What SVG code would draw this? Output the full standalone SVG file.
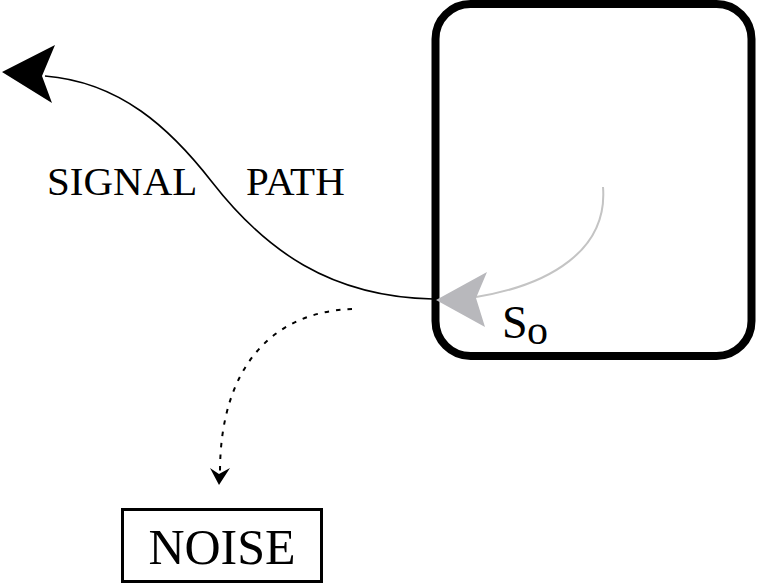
<svg xmlns="http://www.w3.org/2000/svg" width="757" height="585" viewBox="0 0 757 585">
<style>
.t{font-family:"Liberation Serif","Times New Roman",serif;fill:#000}
</style>
<rect width="757" height="585" fill="#fff"/>
<g id="block">
<rect x="435.5" y="4" width="316" height="352" rx="35" ry="35" fill="none" stroke="#000" stroke-width="8"/>
<text class="t" x="502" y="338" font-size="46">S</text>
<text class="t" x="527" y="344" font-size="42">o</text>
</g>
<g id="noise">
<rect x="122.5" y="509.5" width="199" height="72" fill="none" stroke="#000" stroke-width="3"/>
<text class="t" x="222" y="564" font-size="50" text-anchor="middle">NOISE</text>
</g>
<g id="labels">
<text class="t" x="47" y="195" font-size="41">SIGNAL</text>
<text class="t" x="246" y="195" font-size="41">PATH</text>
</g>
<g id="connectors">
<path d="M433,299 C330,297 265,250 212,182 C170,128 120,82 45,76" fill="none" stroke="#000" stroke-width="1.6"/>
<polygon points="2,72 55,45 42,76 52,103" fill="#000"/>
<path d="M603,187 C608,250 550,285 476,297" fill="none" stroke="#c4c4c4" stroke-width="2"/>
<polygon points="436,300 487,272 476,298 485,327" fill="#b8b8bc"/>
<path d="M352,309 C270,312 220,370 220,472" fill="none" stroke="#000" stroke-width="2" stroke-dasharray="4.5,7"/>
<polygon points="219,485 210,468 219,474 230,468" fill="#000"/>
</g>
</svg>
